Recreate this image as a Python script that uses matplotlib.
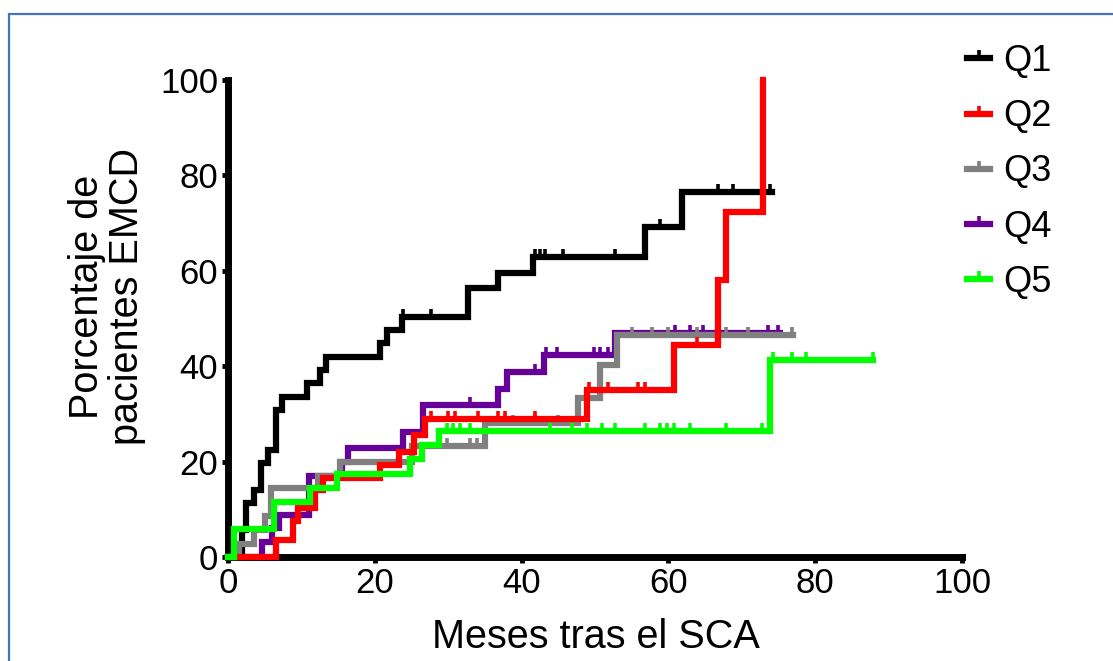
import numpy as np
import matplotlib
matplotlib.use("Agg")
import matplotlib.pyplot as plt
from matplotlib.patches import Rectangle

plt.rcParams['font.family'] = ['Liberation Sans', 'DejaVu Sans']

# step curves: event times (months) and cumulative percentage after each event
q1_t = [0, 1.9, 2.5, 3.5, 4.5, 5.5, 6.5, 7.4, 10.7, 12.5, 13.4, 20.7, 21.6, 23.7,
        32.7, 36.8, 41.6, 56.8, 61.8, 74.1]
q1_y = [0, 5.6, 11.3, 14.0, 19.7, 22.4, 30.8, 33.5, 36.5, 39.2, 41.9, 44.9, 47.6,
        50.3, 56.4, 59.5, 62.9, 69.2, 76.5, 76.5]
q1_c = [23.9, 27.7, 41.8, 42.5, 43.2, 45.6, 52.7, 58.9, 66.8, 68.8, 73.8]

q2_t = [0, 6.6, 8.8, 9.5, 11.8, 13.0, 20.7, 23.3, 25.3, 26.8, 48.9, 60.7, 66.8,
        67.9, 72.9, 72.9]
q2_y = [0, 3.6, 7.5, 10.3, 14.0, 16.5, 19.2, 22.0, 25.5, 29.0, 35.0, 44.4, 58.0,
        72.3, 100, 100]
q2_c = [27.7, 30.0, 30.9, 34.1, 36.8, 37.7, 41.8, 49.2, 51.8, 55.9, 56.8, 63.9]

q3_t = [0, 1.5, 3.5, 5.0, 5.8, 12.2, 15.2, 25.0, 35.0, 47.7, 50.7, 53.0, 77.0]
q3_y = [0, 2.8, 5.6, 8.5, 14.5, 17.0, 20.0, 23.3, 28.0, 33.3, 40.3, 46.5, 46.5]
q3_c = [29.8, 33.0, 33.9, 37.7, 38.8, 41.8, 45.0, 55.0, 57.7, 60.0, 63.9, 67.9,
        70.9, 76.8]

q4_t = [0, 4.6, 6.0, 7.0, 11.0, 15.5, 16.3, 23.9, 26.6, 36.8, 38.0, 43.0, 52.7, 75.2]
q4_y = [0, 3.2, 6.0, 8.8, 17.0, 20.0, 22.8, 26.3, 31.9, 35.2, 38.7, 42.3, 47.0, 47.0]
q4_c = [33.0, 41.8, 43.3, 44.8, 49.8, 50.7, 51.8, 60.9, 62.9, 64.7, 66.8, 73.6, 74.9]

q5_t = [0, 0.8, 6.3, 11.2, 14.8, 24.8, 26.4, 28.7, 73.8, 87.9]
q5_y = [0, 5.9, 11.5, 14.5, 17.4, 20.6, 23.5, 26.5, 41.2, 41.2]
q5_c = [29.8, 30.7, 31.6, 33.0, 43.9, 46.8, 48.9, 50.9, 52.7, 56.8, 58.9, 59.8,
        60.7, 62.9, 67.9, 72.7, 74.2, 76.8, 78.8, 87.9]

labels = ['Q1', 'Q2', 'Q3', 'Q4', 'Q5']
colors = ['#000000', '#ff0000', '#808080', '#660099', '#00ff00']
zorders = [3, 6, 5, 4, 7]

curves = [(q1_t, q1_y, q1_c), (q2_t, q2_y, q2_c), (q3_t, q3_y, q3_c),
          (q4_t, q4_y, q4_c), (q5_t, q5_y, q5_c)]

fig = plt.figure(figsize=(11.13, 6.61), dpi=100)
ax = fig.add_axes([228 / 1113, 1 - 557 / 661, 734 / 1113, 477 / 661])

lw = 4.5
for (t, y, c), lab, col, z in zip(curves, labels, colors, zorders):
    ax.step(t, y, where='post', color=col, lw=lw, zorder=z, clip_on=False,
            solid_joinstyle='miter')
    idx = np.searchsorted(t, c, side='right') - 1
    cy = np.array(y)[idx]
    ax.plot(c, cy, ls='none', marker=2, ms=5.5, mew=2.6, color=col,
            zorder=z, clip_on=False)
    # legend proxy
    ax.plot([], [], color=col, lw=lw, marker=2, ms=5.5, mew=2.6, label=lab)

ax.set_xlim(0, 100)
ax.set_ylim(0, 100)
ax.set_xticks([0, 20, 40, 60, 80, 100])
ax.set_yticks([0, 20, 40, 60, 80, 100])
for s in ['top', 'right']:
    ax.spines[s].set_visible(False)
for s in ['left', 'bottom']:
    ax.spines[s].set_linewidth(5)
ax.tick_params(axis='both', length=4, width=3.5, labelsize=25, pad=3)

fig.text(596 / 1113, 1 - 637 / 661, 'Meses tras el SCA', fontsize=28.5,
         ha='center', va='center')
fig.text(107 / 1113, 1 - 297 / 661, 'Porcentaje de\npacientes EMCD', fontsize=28.5,
         ha='center', va='center', rotation=90, multialignment='center',
         linespacing=1.1)

fig.legend(loc='upper left', bbox_to_anchor=(967 / 1113, 1 - 44 / 661),
           frameon=False, fontsize=26, handlelength=0.65, handletextpad=0.35,
           labelspacing=0.56, borderpad=0, borderaxespad=0, numpoints=1)

# blue frame around the figure
fig.patches.append(Rectangle((9 / 1113, -0.05), 1.2, 1 - 14 / 661 + 0.05,
                             transform=fig.transFigure, fill=False,
                             edgecolor='#4472c4', lw=1.6))

fig.savefig('out.png', dpi=100)
